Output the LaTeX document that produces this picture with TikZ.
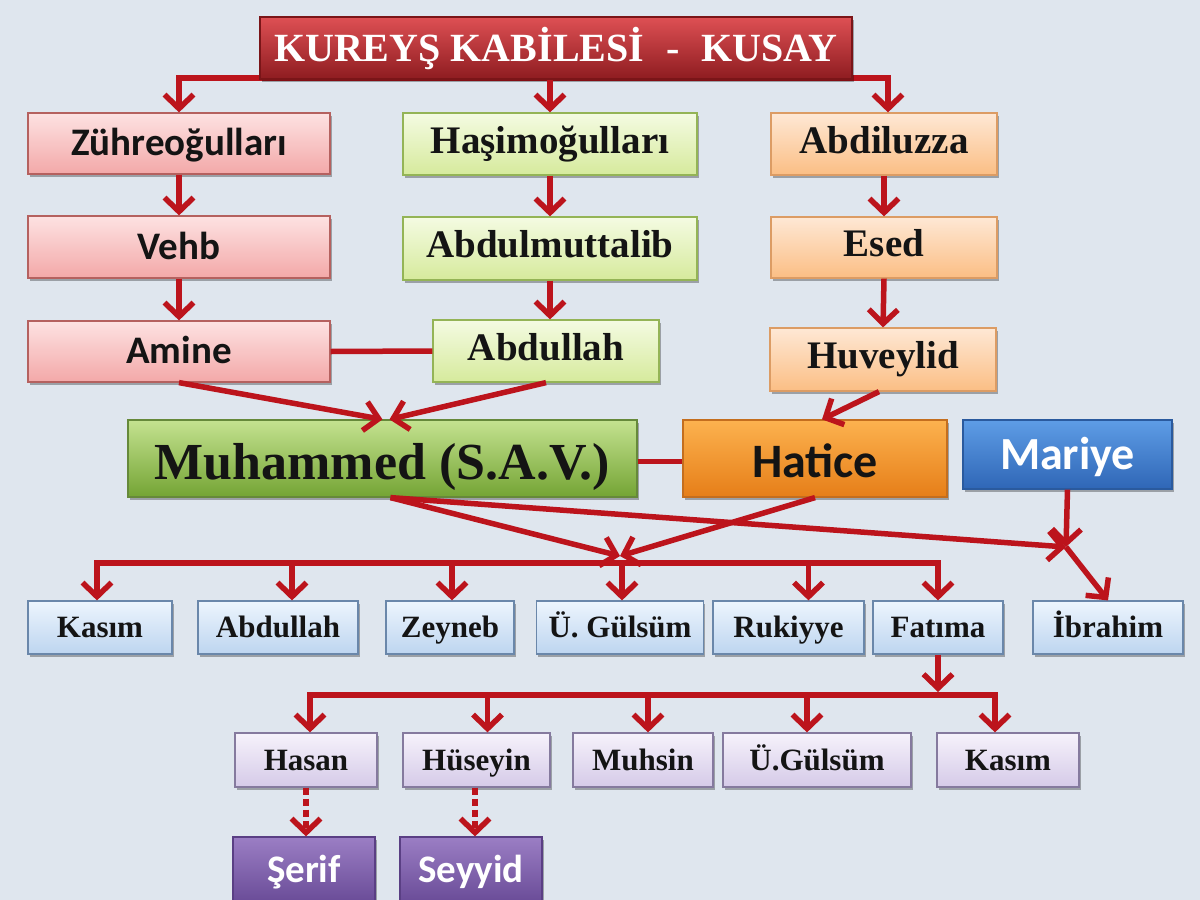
\documentclass[tikz,border=0pt]{standalone}
\usepackage{fontspec}
\setmainfont{Liberation Serif}
\newfontfamily\calfont{Carlito}
\usetikzlibrary{arrows.meta,shadows}
\definecolor{bg}{HTML}{DFE6EE}
\definecolor{lred}{HTML}{BC141C}
\definecolor{txt}{HTML}{141414}
\definecolor{pinkt}{HTML}{FDE2E2}\definecolor{pinkb}{HTML}{F3A8A8}\definecolor{pinkd}{HTML}{B5615F}
\definecolor{grnt}{HTML}{F4FBE2}\definecolor{grnb}{HTML}{D6EA9C}\definecolor{grnd}{HTML}{94B456}
\definecolor{pcht}{HTML}{FEE8D5}\definecolor{pchb}{HTML}{FBBE84}\definecolor{pchd}{HTML}{DC9C64}
\definecolor{mgt}{HTML}{C4E290}\definecolor{mgm}{HTML}{9BC656}\definecolor{mgb}{HTML}{74A434}\definecolor{mgd}{HTML}{66893A}
\definecolor{hatt}{HTML}{FCB24F}\definecolor{hatb}{HTML}{E67E18}\definecolor{hatd}{HTML}{C46E1E}
\definecolor{mart}{HTML}{5E9DE6}\definecolor{marb}{HTML}{2F66B6}\definecolor{mard}{HTML}{2A5A9E}
\definecolor{blut}{HTML}{EDF5FD}\definecolor{blub}{HTML}{BDD5F0}\definecolor{blud}{HTML}{6A87AA}
\definecolor{lavt}{HTML}{F6F2FB}\definecolor{lavb}{HTML}{D5CAE8}\definecolor{lavd}{HTML}{857A9E}
\definecolor{purt}{HTML}{9B7EC4}\definecolor{purb}{HTML}{694B97}\definecolor{purd}{HTML}{5A3F84}
\definecolor{tit}{HTML}{DE5054}\definecolor{tim}{HTML}{B42A2E}\definecolor{tib}{HTML}{8E1C20}\definecolor{tid}{HTML}{7A1518}
\tikzset{
  box/.style={rectangle, line width=1.2pt, inner sep=0pt, align=center, text=txt,
    drop shadow={shadow xshift=1.5pt, shadow yshift=-2.5pt, opacity=0.3, fill=black}},
  pinkbox/.style={box, draw=pinkd, top color=pinkt, bottom color=pinkb},
  grnbox/.style={box, draw=grnd, top color=grnt, bottom color=grnb},
  pchbox/.style={box, draw=pchd, top color=pcht, bottom color=pchb},
  muhbox/.style={box, draw=mgd, top color=mgt, middle color=mgm, bottom color=mgb},
  hatbox/.style={box, draw=hatd, top color=hatt, bottom color=hatb},
  marbox/.style={box, draw=mard, top color=mart, bottom color=marb, text=white},
  blubox/.style={box, draw=blud, top color=blut, bottom color=blub},
  lavbox/.style={box, draw=lavd, top color=lavt, bottom color=lavb},
  purbox/.style={box, draw=purd, top color=purt, bottom color=purb, text=white},
  titbox/.style={box, draw=tid, top color=tit, middle color=tim, bottom color=tib, text=white},
  serifL/.style={font=\fontsize{39}{44}\selectfont\bfseries, text height=26pt, text depth=8pt},
  serifS/.style={font=\fontsize{31}{36}\selectfont\bfseries, text height=24pt, text depth=3.5pt},
  sansL/.style={font=\calfont\fontsize{39}{44}\selectfont\bfseries, text height=28pt, text depth=4pt},
  redline/.style={draw=lred, line width=5.5pt},
  arr/.style={redline, -{Straight Barb[length=14pt,width=29pt,line width=5.5pt]}},
  dasharr/.style={arr, dash pattern=on 7pt off 4pt},
}
\begin{document}
\begin{tikzpicture}[x=1pt,y=-1pt]
\useasboundingbox (0,0) rectangle (1200,900);
\fill[bg] (0,0) rectangle (1200,900);

% --- nodes
\node[pinkbox, sansL, minimum width=302pt, minimum height=61pt] (zuh) at (179,143.5) {Zühreoğulları};
\node[grnbox, serifL, minimum width=294pt, minimum height=62pt] (has) at (550,144) {Haşimoğulları};
\node[pchbox, serifL, minimum width=226pt, minimum height=62pt] (abz) at (884,144) {Abdiluzza};
\node[pinkbox, sansL, minimum width=302pt, minimum height=62pt] (veh) at (179,247) {Vehb};
\node[grnbox, serifL, minimum width=294pt, minimum height=63pt] (abm) at (550,248.5) {Abdulmuttalib};
\node[pchbox, serifL, minimum width=226pt, minimum height=61pt] (esd) at (884,247.5) {Esed};
\node[pinkbox, sansL, minimum width=302pt, minimum height=61pt] (ami) at (179,351.5) {Amine};
\node[grnbox, serifL, minimum width=226pt, minimum height=62pt] (abd) at (546,351) {Abdullah};
\node[pchbox, serifL, minimum width=226pt, minimum height=63pt] (huv) at (883,359.5) {Huveylid};

% --- connectors
\coordinate (tbar) at (0,78);
\coordinate (cbar) at (0,563);
\coordinate (gbar) at (0,695);
\coordinate (j1) at (620,556);
\coordinate (j2) at (1066,547);

\draw[arr] (tbar -| has.north) -| (zuh.north);
\draw[arr] (tbar -| has.north) -| ([xshift=4pt]abz.north);
\node[titbox, font=\fontsize{40}{46}\selectfont\bfseries, text height=30pt, text depth=3pt, minimum width=592pt, minimum height=62pt] (tit) at (556,48) {KUREYŞ KABİLESİ\hspace{0.55em}-\hspace{0.55em}KUSAY};
\draw[arr] (tit.south -| has.north) -- (has.north);

\draw[arr] (zuh.south) -- (veh.north);
\draw[arr] (veh.south) -- (ami.north);
\draw[arr] (has.south) -- (abm.north);
\draw[arr] (abm.south) -- (abm.south |- abd.north);
\draw[arr] (abz.south) -- (esd.north);
\draw[arr] (esd.south) -- (huv.north);
\draw[redline] (ami.east) -- (abd.west);

\node[muhbox, font=\fontsize{52}{58}\selectfont\bfseries, text height=48pt, text depth=6pt, minimum width=509pt, minimum height=77pt] (muh) at (382.5,458.5) {Muhammed (S.A.V.)};
\node[hatbox, font=\calfont\fontsize{48}{54}\selectfont\bfseries, text height=44pt, text depth=6pt, minimum width=264pt, minimum height=77pt] (hat) at (815,458.5) {Hatice};
\node[marbox, font=\calfont\fontsize{46}{52}\selectfont\bfseries, text height=36pt, text depth=6pt, minimum width=209pt, minimum height=69pt] (mar) at (1067.5,454.5) {Mariye};

\draw[arr] (ami.south) -- ([xshift=0pt]muh.north);
\draw[arr] (abd.south) -- ([xshift=7pt]muh.north);
\draw[arr] ([xshift=-4pt]huv.south) -- ([xshift=7pt]hat.north);
\draw[redline] ([yshift=-3pt]muh.east) -- ([yshift=-3pt]hat.west);

% children
\node[blubox, serifS, minimum width=144pt, minimum height=53pt] (c1) at (100,627.5) {Kasım};
\node[blubox, serifS, minimum width=160pt, minimum height=53pt] (c2) at (278,627.5) {Abdullah};
\node[blubox, serifS, minimum width=128pt, minimum height=53pt] (c3) at (450,627.5) {Zeyneb};
\node[blubox, serifS, minimum width=167pt, minimum height=53pt] (c4) at (620,627.5) {Ü. Gülsüm};
\node[blubox, serifS, minimum width=151pt, minimum height=53pt] (c5) at (788.5,627.5) {Rukiyye};
\node[blubox, serifS, minimum width=130pt, minimum height=53pt] (c6) at (938,627.5) {Fatıma};
\node[blubox, serifS, minimum width=150pt, minimum height=53pt] (c7) at (1108,627.5) {İbrahim};

\draw[arr] ([xshift=8pt]muh.south) -- (j1);
\draw[arr] (hat.south) -- (j1);
\draw[arr] ([xshift=8pt]muh.south) -- (j2);
\draw[arr] (mar.south) -- (j2);
\draw[arr] (j2) -- (c7.north);

\path ([xshift=-3pt]c1.north) coordinate (t1)
      ([xshift=14pt]c2.north) coordinate (t2)
      ([xshift=2pt]c3.north) coordinate (t3)
      ([xshift=2pt]c4.north) coordinate (t4)
      ([xshift=20pt]c5.north) coordinate (t5)
      (c6.north) coordinate (t6);
\draw[arr] (t6 |- cbar) -| (t1);
\draw[arr] (t1 |- cbar) -| (t6);
\foreach \t in {t2,t3,t4,t5} \draw[arr] (\t |- cbar) -- (\t);

% grandchildren
\node[lavbox, serifS, minimum width=142pt, minimum height=54pt] (g1) at (306,760) {Hasan};
\node[lavbox, serifS, minimum width=147pt, minimum height=54pt] (g2) at (476.5,760) {Hüseyin};
\node[lavbox, serifS, minimum width=140pt, minimum height=54pt] (g3) at (643,760) {Muhsin};
\node[lavbox, serifS, minimum width=188pt, minimum height=54pt] (g4) at (817,760) {Ü.Gülsüm};
\node[lavbox, serifS, minimum width=142pt, minimum height=54pt] (g5) at (1008,760) {Kasım};

\draw[arr] (c6.south) -- ([yshift=3pt]c6.south |- gbar);
\path ([xshift=4pt]g1.north) coordinate (u1)
      ([xshift=11pt]g2.north) coordinate (u2)
      ([xshift=5pt]g3.north) coordinate (u3)
      ([xshift=-10pt]g4.north) coordinate (u4)
      ([xshift=-13pt]g5.north) coordinate (u5);
\draw[arr] (u5 |- gbar) -| (u1);
\draw[arr] (u1 |- gbar) -| (u5);
\foreach \u in {u2,u3,u4} \draw[arr] (\u |- gbar) -- (\u);

% great-grandchildren
\node[purbox, sansL, minimum width=142pt, minimum height=66pt] (s1) at (304,870) {Şerif};
\node[purbox, sansL, minimum width=142pt, minimum height=66pt] (s2) at (471,870) {Seyyid};
\draw[dasharr] (g1.south) -- (g1.south |- s1.north);
\draw[dasharr] ([xshift=-1.5pt]g2.south) -- ([xshift=-1.5pt]g2.south |- s2.north);
\end{tikzpicture}
\end{document}
